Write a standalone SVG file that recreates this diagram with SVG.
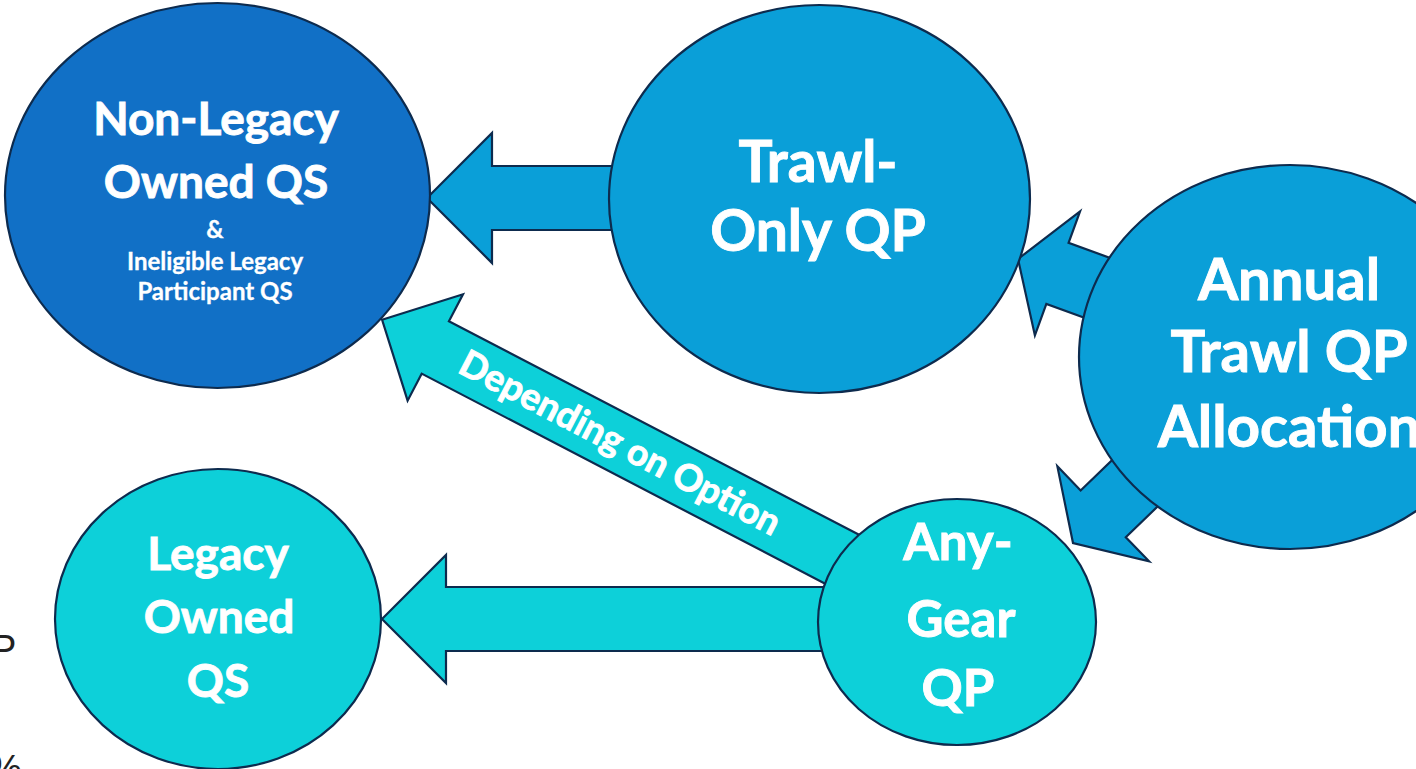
<svg xmlns="http://www.w3.org/2000/svg" width="1416" height="769" viewBox="0 0 1416 769">
<style>
.stk{stroke:#0D2B4E;stroke-width:2.2;stroke-linejoin:miter}
.blue{fill:#0A9FD8}
.cyan{fill:#0DD0D9}
.dark{fill:#1170C6}
.lbl{font-family:Lato,"Open Sans","Liberation Sans",sans-serif;font-weight:bold;fill:#FFFFFF;stroke:#FFFFFF;stroke-width:0.9;text-anchor:middle}
.sm{stroke-width:0.3}
.frag{font-family:"Liberation Sans",Arial,sans-serif;fill:#222222;font-size:38px}
</style>
<rect width="1416" height="769" fill="#FFFFFF"/>
<g id="edge-fragments">
<text class="frag" x="-9" y="662">P</text>
<text class="frag" x="-12" y="782">%</text>
</g>
<g id="connectors">
<polygon class="blue stk" points="427,198 492,133 492,166 640,166 640,230 492,230 492,263"/>
<polygon class="cyan stk" points="382,619 446,555 446,587 850,587 850,651 446,651 446,683"/>
<g transform="translate(383,318) rotate(27.5)">
<polygon class="cyan stk" points="0,2 60,-58 60,-27.5 530,-27.5 530,31.5 60,31.5 60,62"/>
<text class="lbl" x="268" y="14" font-size="37">Depending on Option</text>
</g>
<polygon class="blue stk" transform="translate(1018,259) rotate(20)" points="0,0 42,-66 42,-32.5 140,-32.5 140,32.5 42,32.5 42,66"/>
<polygon class="blue stk" transform="translate(1073,543) rotate(-44)" points="0,0 42,-66 42,-32.5 140,-32.5 140,32.5 42,32.5 42,66"/>
</g>
<g id="node-nonlegacy">
<ellipse class="dark stk" cx="217.5" cy="195.5" rx="212.5" ry="192.5"/>
<text class="lbl" x="216" y="135" font-size="46">Non-Legacy</text>
<text class="lbl" x="216" y="198" font-size="46">Owned QS</text>
<text class="lbl sm" x="215" y="238" font-size="24">&amp;</text>
<text class="lbl sm" x="215" y="270" font-size="24">Ineligible Legacy</text>
<text class="lbl sm" x="215" y="300" font-size="24">Participant QS</text>
</g>
<g id="node-trawlonly">
<ellipse class="blue stk" cx="819.5" cy="199" rx="210.5" ry="194"/>
<text class="lbl" x="818" y="182" font-size="57">Trawl-</text>
<text class="lbl" x="818" y="251" font-size="57">Only QP</text>
</g>
<g id="node-annual">
<ellipse class="blue stk" cx="1290" cy="357" rx="211" ry="192"/>
<text class="lbl" x="1289" y="300" font-size="58">Annual</text>
<text class="lbl" x="1289" y="372" font-size="58">Trawl QP</text>
<text class="lbl" x="1289" y="447" font-size="58">Allocation</text>
</g>
<g id="node-legacy">
<ellipse class="cyan stk" cx="218" cy="619" rx="163" ry="150"/>
<text class="lbl" x="218" y="570" font-size="46">Legacy</text>
<text class="lbl" x="219" y="633" font-size="46">Owned</text>
<text class="lbl" x="218" y="697" font-size="46">QS</text>
</g>
<g id="node-anygear">
<ellipse class="cyan stk" cx="957" cy="622" rx="139" ry="123"/>
<text class="lbl" x="958" y="560" font-size="51">Any-</text>
<text class="lbl" x="961" y="637" font-size="51">Gear</text>
<text class="lbl" x="958" y="706" font-size="51">QP</text>
</g>
</svg>
